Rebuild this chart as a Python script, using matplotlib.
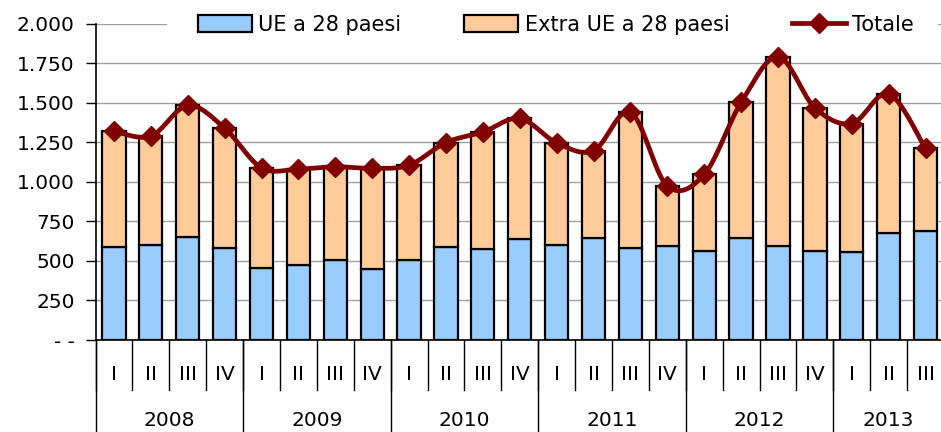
import matplotlib.pyplot as plt
import matplotlib.transforms as mtransforms
from matplotlib.patches import Rectangle
import numpy as np

years = ["2008", "2009", "2010", "2011", "2012", "2013"]
quarters = ["I", "II", "III", "IV"] * 5 + ["I", "II", "III"]
ue = [589, 602, 649, 579, 453, 474, 505, 448, 507, 587, 573, 636,
      600, 642, 579, 594, 564, 646, 594, 560, 553, 674, 690]
totale = [1320, 1288, 1482, 1339, 1088, 1080, 1095, 1085, 1105, 1248, 1314, 1400,
          1246, 1196, 1440, 973, 1046, 1501, 1789, 1467, 1368, 1556, 1211]
extra = [t - u for t, u in zip(totale, ue)]
yticks = [0, 250, 500, 750, 1000, 1250, 1500, 1750, 2000]
ytick_labels = ["- -", "250", "500", "750", "1.000", "1.250", "1.500", "1.750", "2.000"]

plt.rcParams['font.family'] = ['DejaVu Sans']
fs = 14.5

fig = plt.figure(figsize=(9.41, 4.32), dpi=100)
left = 95.5 / 941
width = (944 - 95.5) / 941
bottom = (432 - 340) / 432
height = (340 - 23.5) / 432
ax = fig.add_axes([left, bottom, width, height])

n = len(ue)
x = np.arange(n)
b1 = ax.bar(x, ue, width=0.63, color='#99CCFF', edgecolor='black', linewidth=1.6,
            label='UE a 28 paesi', zorder=3)
b2 = ax.bar(x, extra, bottom=ue, width=0.63, color='#FFCC99', edgecolor='black',
            linewidth=1.6, label='Extra UE a 28 paesi', zorder=3)


# smooth line like Excel (cubic bezier through the points)
def smooth(xs, ys, steps=20):
    pts = np.column_stack([xs, ys]).astype(float)
    ext = np.vstack([pts[0], pts, pts[-1]])
    out = []
    for i in range(len(pts) - 1):
        p0, p1, p2, p3 = ext[i], ext[i + 1], ext[i + 2], ext[i + 3]
        c1 = p1 + (p2 - p0) / 6
        c2 = p2 - (p3 - p1) / 6
        t = np.linspace(0, 1, steps)[:, None]
        seg = ((1 - t) ** 3) * p1 + 3 * ((1 - t) ** 2) * t * c1 + 3 * (1 - t) * t ** 2 * c2 + t ** 3 * p2
        out.append(seg if i == 0 else seg[1:])
    out = np.vstack(out)
    return out[:, 0], out[:, 1]


sx, sy = smooth(x, totale)
ax.plot(sx, sy, color='#800000', lw=3.4, zorder=4, solid_capstyle='round')
ax.plot(x, totale, linestyle='none', marker='D', markersize=10, color='#800000', zorder=5)
line_handle, = ax.plot([], [], color='#800000', lw=3.4, marker='D', markersize=10, label='Totale')

ax.set_xlim(-0.5, n - 0.5)
ax.set_ylim(0, 2000)
ax.set_yticks(yticks)
ax.set_yticklabels(ytick_labels, fontsize=fs)
ax.tick_params(axis='y', direction='out', length=7, width=1, pad=8)
ax.set_xticks([])
ax.yaxis.grid(True, color='#A0A0A0', lw=1)
ax.set_axisbelow(True)
for s in ['top', 'right']:
    ax.spines[s].set_visible(False)
ax.spines['left'].set_linewidth(1.2)
ax.spines['bottom'].set_linewidth(1.2)

# category axis with quarters and years
trans = mtransforms.blended_transform_factory(ax.transData, ax.transAxes)
for i, q in enumerate(quarters):
    ax.text(i, -0.11, q, transform=trans, ha='center', va='center', fontsize=fs)
for i in range(n + 1):
    ax.plot([i - 0.5, i - 0.5], [0, -0.158], transform=trans, color='black', lw=1, clip_on=False)
starts = [0, 4, 8, 12, 16, 20]
for k, yr in enumerate(years):
    s = starts[k]
    e = starts[k + 1] if k + 1 < len(starts) else n
    ax.text((s + e - 1) / 2, -0.255, yr, transform=trans, ha='center', va='center', fontsize=fs)
    ax.plot([s - 0.5, s - 0.5], [0, -0.35], transform=trans, color='black', lw=1, clip_on=False)

# white legend area hiding the top gridline
fig.patches.append(Rectangle((167 / 941, 1 - 42 / 432), (938 - 167) / 941, 34 / 432,
                             transform=fig.transFigure, facecolor='white',
                             edgecolor='none', zorder=1))

leg = fig.legend(handles=[b1, b2, line_handle], loc='center',
                 bbox_to_anchor=(556 / 941, 1 - 25 / 432), ncol=3,
                 fontsize=15, frameon=False, handlelength=2.6, handleheight=0.85,
                 columnspacing=3.0, handletextpad=0.3, borderpad=0.2)
leg.set_zorder(2)

fig.savefig('out.png', dpi=100)
